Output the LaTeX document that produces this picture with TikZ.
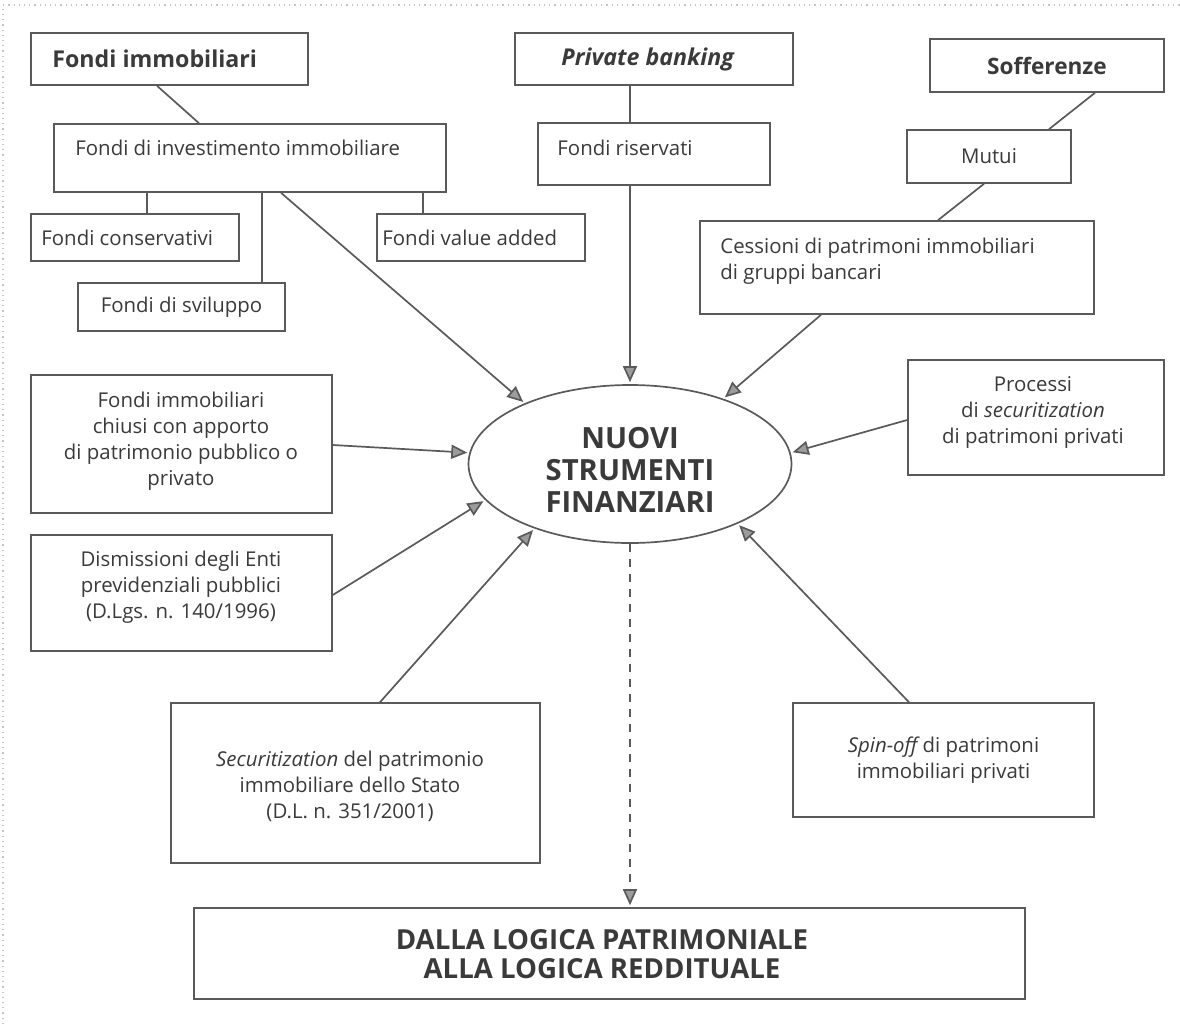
\documentclass[tikz,border=0pt]{standalone}
\usepackage{fontspec}
\setmainfont{Open Sans}
\usetikzlibrary{arrows.meta,shapes.geometric}
\definecolor{ink}{HTML}{3A3A3A}
\definecolor{rule}{HTML}{5A5A5A}
\definecolor{edge}{HTML}{C4C4C4}

\begin{document}
\begin{tikzpicture}[x=0.5pt,y=-0.5pt,
  box/.style={draw=rule, line width=0.8pt, inner sep=0pt, text=ink, align=center,
    font=\fontsize{10.2}{13}\selectfont},
  dim/.style 2 args={minimum width=#1*0.5pt, minimum height=#2*0.5pt},
  txt/.style={inner sep=0pt, text=ink, font=\fontsize{10.2}{13}\selectfont},
  head/.style={inner sep=0pt, text=ink, font=\fontsize{11.6}{14}\selectfont\bfseries},
  big/.style={inner sep=0pt, text=ink, align=center, font=\fontsize{14.6}{16}\selectfont\bfseries},
  link/.style={draw=rule, line width=0.85pt},
  arr/.style={draw=rule, line width=0.85pt, shorten >=1pt,
    -{Triangle[length=8pt,width=7pt,fill=rule!60]}},
  dasharr/.style={arr, dash pattern=on 4pt off 3.5pt}
]
\useasboundingbox (0,0) rectangle (1180,1024);
\fill[white] (0,0) rectangle (1180,1024);
% thin dotted page edge
\draw[edge, dotted, line width=0.6pt] (3,1024) -- (3,5) -- (1180,5);

% ---- top row: headings
\node[box, dim={277}{52}] (fi) at (169.5,59) {};
\node[head, anchor=west] (fi-t) at (52,59) {Fondi immobiliari};
\node[box, dim={278}{52}] (pb) at (654,59) {};
\node[head, anchor=west] (pb-t) at (561,59) {\itshape Private banking};
\node[box, dim={234}{53}, font=\fontsize{11.3}{14}\selectfont\bfseries] (sof) at (1047,65.5) {Sofferenze};

% ---- second row
\node[box, dim={392}{68}] (fdi) at (250,158) {};
\node[txt, anchor=west] (fdi-t) at (75,148) {Fondi di investimento immobiliare};
\node[box, dim={232}{62}] (fr) at (654,154) {};
\node[txt, anchor=west] (fr-t) at (557,148) {Fondi riservati};
\node[box, dim={164}{53}] (mut) at (989,156.5) {Mutui};

% ---- kinds of funds
\node[box, dim={208}{47}] (cons) at (135,237.5) {};
\node[txt, anchor=west] (cons-t) at (41,238) {Fondi conservativi};
\node[box, dim={208}{47}] (va) at (481,237.5) {};
\node[txt, anchor=west] (va-t) at (382,238) {Fondi value added};
\node[box, dim={207}{48}] (svil) at (181.5,307) {Fondi di sviluppo};

\node[box, dim={394}{93}] (ces) at (897,267.5) {};
\node[txt, anchor=west, align=left] (ces-t) at (720,261)
  {Cessioni di patrimoni immobiliari\\di gruppi bancari};

% ---- middle
\node[draw=rule, line width=0.85pt, ellipse, inner sep=0pt,
  minimum width=323*0.5pt, minimum height=158*0.5pt] (ell) at (630,464) {};
\node[big] (ell-t) at (630,470) {NUOVI\\STRUMENTI\\FINANZIARI};

\node[box, dim={301}{138}] (chi) at (181.5,444) {};
\node[txt, align=center] (chi-t) at (181,441)
  {Fondi immobiliari\\chiusi con apporto\\di patrimonio pubblico o\\privato};
\node[box, dim={301}{116}] (dis) at (181.5,593) {};
\node[txt, align=center] (dis-t) at (181,587)
  {Dismissioni degli Enti\\previdenziali pubblici\\(D.Lgs. n. 140/1996)};
\node[box, dim={256}{115}] (pro) at (1036,417.5) {};
\node[txt, align=center] (pro-t) at (1033,412)
  {Processi\\di {\itshape securitization}\\di patrimoni privati};

% ---- lower row
\node[box, dim={369}{160}] (sec) at (355.5,783) {};
\node[txt, align=center] (sec-t) at (350,786)
  {{\itshape Securitization} del patrimonio\\immobiliare dello Stato\\(D.L. n. 351/2001)};
\node[box, dim={301}{114}] (spin) at (943.5,760)
  {{\itshape Spin-off} di patrimoni\\immobiliari privati};

\node[box, dim={831}{91}] (dal) at (609.5,953.5) {};
\node[inner sep=0pt, text=ink, align=center, font=\fontsize{13.8}{14.3}\selectfont\bfseries]
  (dal-t) at (602,954) {DALLA LOGICA PATRIMONIALE\\ALLA LOGICA REDDITUALE};

% ---- plain links
\draw[link] ([xshift=-6.25pt]fi.south) -- ([xshift=-25.5pt]fdi.north);
\draw[link] ([xshift=-51.5pt]fdi.south) -- ([xshift=6pt]cons.north);
\draw[link] ([xshift=6pt]fdi.south) -- ([xshift=40.25pt]svil.north);
\draw[link] ([xshift=86.5pt]fdi.south) -- ([xshift=-29pt]va.north);
\draw[link] ([xshift=-12pt]pb.south) -- ([xshift=-12pt]fr.north);
\draw[link] ([xshift=24pt]sof.south) -- ([xshift=30pt]mut.north);
\draw[link] ([xshift=-2.5pt]mut.south) -- ([xshift=20.5pt]ces.north);

% ---- arrows into the ellipse
\draw[arr] ([xshift=15.5pt]fdi.south) -- (ell.150);
\draw[arr] ([xshift=-12pt]fr.south) -- (ell.north);
\draw[arr] ([xshift=-38pt]ces.south) -- (ell.35);
\draw[arr] ([yshift=-1.25pt]pro.west) -- (ell.4);
\draw[arr] ([yshift=-0.5pt]chi.east) -- (ell.176);
\draw[arr] ([yshift=-1pt]dis.east) -- (ell.194);
\draw[arr] ([xshift=12.25pt]sec.north) -- (ell.214);
\draw[arr] ([xshift=-17.25pt]spin.north) -- (ell.331);

% ---- outcome
\draw[dasharr] (ell.south) -- ([xshift=10.25pt]dal.north);
\end{tikzpicture}
\end{document}
